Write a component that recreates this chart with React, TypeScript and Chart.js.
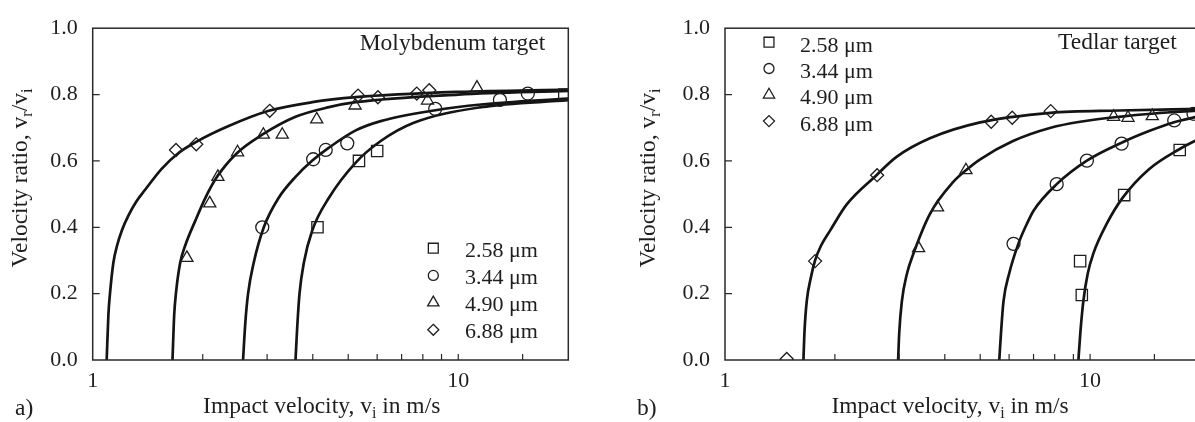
import React, { useEffect, useRef } from "react";
import { Chart, registerables } from "chart.js";

Chart.register(...registerables);

const FONT = '"Liberation Serif", "Times New Roman", serif';
const TITLE_SIZE = 23.5;
const SUB_SIZE = 16;

// ---------- shared ----------
const legendLabels = ["2.58 μm", "3.44 μm", "4.90 μm", "6.88 μm"];
const markerStyles = ["rect", "circle", "triangle", "rectRot"];
const xLabelValues = [1, 10];
const xMin = 1;
const xMax = 20;

// ---------- panel a: Molybdenum target ----------
const moSq_x = [4.12, 5.35, 6.0, 19.5];
const moSq_y = [0.4, 0.6, 0.63, 0.8];
const moCi_x = [2.91, 4.01, 4.34, 4.97, 8.65, 13.0, 15.5];
const moCi_y = [0.4, 0.605, 0.633, 0.653, 0.757, 0.784, 0.803];
const moTr_x = [1.81, 2.09, 2.2, 2.49, 2.93, 3.3, 4.1, 5.22, 8.24, 11.25];
const moTr_y = [0.308, 0.472, 0.552, 0.626, 0.679, 0.679, 0.725, 0.767, 0.782, 0.821];
const moDi_x = [1.69, 1.92, 3.05, 5.32, 6.03, 7.7, 8.33];
const moDi_y = [0.633, 0.65, 0.751, 0.797, 0.792, 0.803, 0.813];

const moC258_x = [3.588, 3.626, 3.679, 3.781, 3.988, 4.429, 5.242, 6.137, 7.558, 11.54, 20];
const moC258_y = [0, 0.098, 0.2, 0.293, 0.391, 0.489, 0.595, 0.66, 0.715, 0.762, 0.783];
const moC344_x = [2.578, 2.617, 2.661, 2.757, 2.938, 3.228, 3.588, 3.988, 4.429, 5.242, 6.137, 8.578, 11.54, 20];
const moC344_y = [0, 0.117, 0.2, 0.293, 0.4, 0.489, 0.552, 0.601, 0.64, 0.692, 0.72, 0.752, 0.77, 0.788];
const moC490_x = [1.653, 1.671, 1.689, 1.735, 1.791, 1.909, 2.032, 2.188, 2.483, 2.908, 3.588, 4.429, 5.242, 10, 20];
const moC490_y = [0, 0.137, 0.2, 0.293, 0.345, 0.42, 0.488, 0.552, 0.624, 0.679, 0.733, 0.762, 0.777, 0.8, 0.811];
const moC688_x = [1.092, 1.104, 1.115, 1.139, 1.166, 1.203, 1.252, 1.315, 1.391, 1.546, 1.717, 1.909, 2.354, 3.031, 3.988, 5.242, 10, 20];
const moC688_y = [0, 0.137, 0.2, 0.293, 0.345, 0.392, 0.435, 0.477, 0.513, 0.577, 0.624, 0.656, 0.705, 0.751, 0.777, 0.792, 0.808, 0.815];

// ---------- panel b: Tedlar target ----------
const teSq_x = [9.39, 9.49, 12.4, 17.6];
const teSq_y = [0.298, 0.196, 0.497, 0.633];
const teCi_x = [6.17, 8.1, 9.8, 12.2, 17.0, 19.2];
const teCi_y = [0.35, 0.53, 0.601, 0.652, 0.722, 0.742];
const teTr_x = [3.39, 3.82, 4.57, 11.6, 12.7, 14.8];
const teTr_y = [0.337, 0.46, 0.572, 0.733, 0.73, 0.735];
const teDi_x = [1.476, 1.765, 2.61, 5.36, 6.12, 7.8];
const teDi_y = [0.003, 0.298, 0.557, 0.718, 0.73, 0.75];

const teC258_x = [9.29, 9.4, 9.58, 9.85, 10.2, 11.1, 12.3, 14.5, 17.6, 20];
const teC258_y = [0, 0.08, 0.176, 0.26, 0.32, 0.41, 0.49, 0.575, 0.636, 0.668];
const teC344_x = [5.64, 5.7, 5.79, 6.0, 6.36, 6.71, 7.0, 8.1, 9.8, 12.2, 14.5, 16.9, 20];
const teC344_y = [0, 0.08, 0.176, 0.26, 0.35, 0.41, 0.45, 0.53, 0.601, 0.655, 0.69, 0.716, 0.735];
const teC490_x = [2.98, 3.0, 3.05, 3.15, 3.28, 3.64, 4.22, 4.57, 5.0, 6.15, 7.8, 9.39, 12, 15, 20];
const teC490_y = [0, 0.08, 0.176, 0.26, 0.32, 0.44, 0.537, 0.572, 0.605, 0.66, 0.7, 0.718, 0.733, 0.743, 0.752];
const teC688_x = [1.64, 1.65, 1.674, 1.72, 1.765, 1.833, 1.94, 2.155, 2.6, 2.95, 3.64, 5.0, 7.8, 12, 20];
const teC688_y = [0, 0.08, 0.176, 0.25, 0.3, 0.345, 0.39, 0.469, 0.557, 0.612, 0.668, 0.716, 0.745, 0.752, 0.757];

type Panel = {
  canvasLeft: number;
  canvasWidth: number;
  axisLeftWidth: number;
  padRight: number;
  curvesX: number[][];
  curvesY: number[][];
  pointsX: number[][];
  pointsY: number[][];
  tag: string;
  tagX: number;
  note: string;
  noteRightGap: number;
  noteBaseline: number;
  yTitleX: number;
  xTitleOffset: number;
  legendSymX: number;
  legendTextX: number;
  legendBaselines: number[];
  legendSymOffset: number;
};

const panels: Panel[] = [
  {
    canvasLeft: 0,
    canvasWidth: 590,
    axisLeftWidth: 92.7,
    padRight: 21.7,
    curvesX: [moC258_x, moC344_x, moC490_x, moC688_x],
    curvesY: [moC258_y, moC344_y, moC490_y, moC688_y],
    pointsX: [moSq_x, moCi_x, moTr_x, moDi_x],
    pointsY: [moSq_y, moCi_y, moTr_y, moDi_y],
    tag: "a)",
    tagX: 15,
    note: "Molybdenum target",
    noteRightGap: 23,
    noteBaseline: 50,
    yTitleX: 27,
    xTitleOffset: 229,
    legendSymX: 433.3,
    legendTextX: 465,
    legendBaselines: [256.7, 283.9, 311.1, 338.3],
    legendSymOffset: 8.5,
  },
  {
    canvasLeft: 600,
    canvasWidth: 620,
    axisLeftWidth: 125,
    padRight: 20,
    curvesX: [teC258_x, teC344_x, teC490_x, teC688_x],
    curvesY: [teC258_y, teC344_y, teC490_y, teC688_y],
    pointsX: [teSq_x, teCi_x, teTr_x, teDi_x],
    pointsY: [teSq_y, teCi_y, teTr_y, teDi_y],
    tag: "b)",
    tagX: 37,
    note: "Tedlar target",
    noteRightGap: 23.3,
    noteBaseline: 49,
    yTitleX: 55,
    xTitleOffset: 225,
    legendSymX: 169,
    legendTextX: 200,
    legendBaselines: [51.7, 78, 104.3, 130.6],
    legendSymOffset: 9.5,
  },
];

const markerRadii = [8, 6.5, 7, 6.5];
const legendRadii = [7, 5, 6.5, 5.5];

function drawShape(ctx: CanvasRenderingContext2D, style: string, x: number, y: number, r: number) {
  ctx.beginPath();
  if (style === "rect") {
    const s = r * Math.SQRT1_2;
    ctx.rect(x - s, y - s, 2 * s, 2 * s);
  } else if (style === "circle") {
    ctx.arc(x, y, r, 0, Math.PI * 2);
  } else if (style === "triangle") {
    ctx.moveTo(x, y - r);
    ctx.lineTo(x + r * 0.866, y + r * 0.5);
    ctx.lineTo(x - r * 0.866, y + r * 0.5);
    ctx.closePath();
  } else {
    ctx.moveTo(x, y - r);
    ctx.lineTo(x + r, y);
    ctx.lineTo(x, y + r);
    ctx.lineTo(x - r, y);
    ctx.closePath();
  }
  ctx.stroke();
}

type Part = { t: string; sub?: boolean };

function drawRich(ctx: CanvasRenderingContext2D, parts: Part[], x: number, y: number) {
  const widths = parts.map((p) => {
    ctx.font = `${p.sub ? SUB_SIZE : TITLE_SIZE}px ${FONT}`;
    return ctx.measureText(p.t).width;
  });
  const total = widths.reduce((a, b) => a + b, 0);
  let cx = x - total / 2;
  ctx.textAlign = "left";
  ctx.textBaseline = "alphabetic";
  parts.forEach((p, i) => {
    ctx.font = `${p.sub ? SUB_SIZE : TITLE_SIZE}px ${FONT}`;
    ctx.fillText(p.t, cx, p.sub ? y + 5 : y);
    cx += widths[i];
  });
}

function makeDecor(p: Panel) {
  return {
    id: "decor",
    afterDatasetsDraw(chart: any) {
      const ctx: CanvasRenderingContext2D = chart.ctx;
      const { left, right, top, bottom } = chart.chartArea;
      const xs = chart.scales.x;
      const ys = chart.scales.y;
      ctx.save();
      ctx.strokeStyle = "#2a2a2a";
      ctx.lineWidth = 1.5;
      ctx.strokeRect(left, top, right - left, bottom - top);
      ctx.lineWidth = 1.2;
      ctx.beginPath();
      xs.ticks.forEach((t: any) => {
        if (t.value <= xs.min || t.value >= xs.max) return;
        const px = xs.getPixelForValue(t.value);
        ctx.moveTo(px, bottom);
        ctx.lineTo(px, bottom - 6);
      });
      ys.ticks.forEach((t: any) => {
        if (t.value <= ys.min + 1e-6 || t.value >= ys.max - 1e-6) return;
        const py = ys.getPixelForValue(t.value);
        ctx.moveTo(left, py);
        ctx.lineTo(left + 7, py);
      });
      ctx.stroke();

      ctx.fillStyle = "#1e1e1e";
      drawRich(
        ctx,
        [{ t: "Impact velocity, v" }, { t: "i", sub: true }, { t: " in m/s" }],
        left + p.xTitleOffset,
        413
      );
      ctx.save();
      ctx.translate(p.yTitleX, 178);
      ctx.rotate(-Math.PI / 2);
      drawRich(
        ctx,
        [{ t: "Velocity ratio, v" }, { t: "r", sub: true }, { t: "/v" }, { t: "i", sub: true }],
        0,
        0
      );
      ctx.restore();
      ctx.font = `${TITLE_SIZE}px ${FONT}`;
      ctx.textAlign = "left";
      ctx.textBaseline = "alphabetic";
      ctx.fillText(p.tag, p.tagX, 415);
      ctx.textAlign = "right";
      ctx.fillText(p.note, right - p.noteRightGap, p.noteBaseline);
      ctx.textAlign = "left";
      ctx.font = `22px ${FONT}`;
      ctx.strokeStyle = "#1e1e1e";
      ctx.lineWidth = 1.3;
      legendLabels.forEach((lab, i) => {
        const b = p.legendBaselines[i];
        drawShape(ctx, markerStyles[i], p.legendSymX, b - p.legendSymOffset, legendRadii[i]);
        ctx.fillText(lab, p.legendTextX, b);
      });
      ctx.restore();
    },
  };
}

function buildConfig(p: Panel): any {
  const datasets: any[] = [];
  for (let i = 0; i < 4; i++) {
    datasets.push({
      label: "fit " + legendLabels[i],
      data: p.curvesX[i].map((x, j) => ({ x, y: p.curvesY[i][j] })),
      showLine: true,
      borderColor: "#141414",
      borderWidth: 2.7,
      pointRadius: 0,
      fill: false,
      cubicInterpolationMode: "monotone",
      order: 1,
    });
  }
  for (let i = 0; i < 4; i++) {
    datasets.push({
      label: legendLabels[i],
      data: p.pointsX[i].map((x, j) => ({ x, y: p.pointsY[i][j] })),
      showLine: false,
      pointStyle: markerStyles[i],
      pointRadius: markerRadii[i],
      pointBorderColor: "#1e1e1e",
      pointBorderWidth: 1.3,
      pointBackgroundColor: "rgba(0,0,0,0)",
      order: 0,
    });
  }
  return {
    type: "scatter",
    data: { datasets },
    options: {
      animation: false,
      responsive: false,
      devicePixelRatio: 1,
      layout: { padding: { left: 0, right: p.padRight, top: 19, bottom: 0 } },
      plugins: { legend: { display: false }, tooltip: { enabled: false } },
      scales: {
        x: {
          type: "logarithmic",
          min: xMin,
          max: xMax,
          grid: { display: false, drawTicks: false },
          border: { display: false },
          ticks: {
            autoSkip: false,
            maxRotation: 0,
            padding: 8,
            color: "#1e1e1e",
            font: { family: FONT, size: 22 },
            callback: (v: number) => (xLabelValues.includes(v) ? String(v) : ""),
          },
          afterFit: (s: any) => {
            s.height = 62;
          },
        },
        y: {
          min: 0,
          max: 1,
          grid: { display: false, drawTicks: false },
          border: { display: false },
          ticks: {
            stepSize: 0.2,
            padding: 15,
            color: "#1e1e1e",
            font: { family: FONT, size: 22 },
            callback: (v: number) => Number(v).toFixed(1),
          },
          afterFit: (s: any) => {
            s.width = p.axisLeftWidth;
          },
        },
      },
    },
    plugins: [makeDecor(p)],
  };
}

function PanelChart({ p }: { p: Panel }) {
  const ref = useRef<HTMLCanvasElement | null>(null);
  useEffect(() => {
    if (!ref.current) return;
    const chart = new Chart(ref.current, buildConfig(p));
    return () => chart.destroy();
  }, [p]);
  return (
    <canvas
      ref={ref}
      width={p.canvasWidth}
      height={422}
      style={{ position: "absolute", left: p.canvasLeft, top: 0, width: p.canvasWidth, height: 422 }}
    />
  );
}

export default function App() {
  return (
    <div
      style={{
        position: "absolute",
        left: 0,
        top: 0,
        width: 1195,
        height: 422,
        overflow: "hidden",
        background: "#ffffff",
      }}
    >
      {panels.map((p, i) => (
        <PanelChart key={i} p={p} />
      ))}
    </div>
  );
}
